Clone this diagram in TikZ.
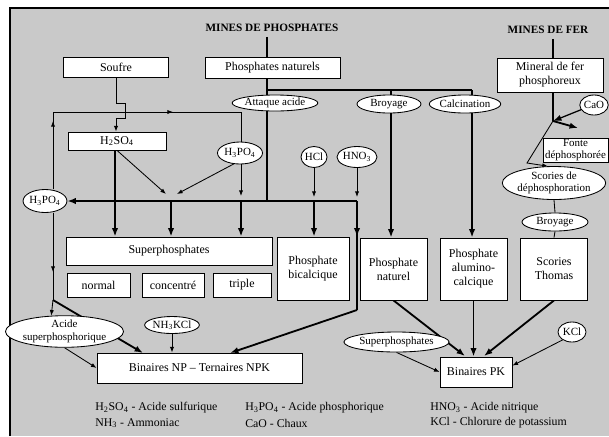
\documentclass[tikz,border=0pt]{standalone}
\usepackage{fontspec}
\setmainfont{Liberation Serif}
\usetikzlibrary{shapes.geometric,arrows.meta}
\pgfdeclarelayer{back}
\pgfdeclarelayer{lines}
\pgfsetlayers{back,lines,main}
\tikzset{
  pbox/.style 2 args={draw, line width=0.6pt, fill=white, align=center, inner sep=1pt,
    font=\fontsize{8.5}{10}\selectfont, minimum width=#1*0.025cm, minimum height=#2*0.025cm},
  pell/.style 2 args={ellipse, draw, line width=0.6pt, fill=white, align=center, inner sep=0pt,
    font=\fontsize{7.8}{8.8}\selectfont, minimum width=#1*0.025cm, minimum height=#2*0.025cm},
  mines/.style={font=\fontsize{8}{9}\selectfont\bfseries},
  legend/.style={anchor=west, inner sep=0pt, font=\fontsize{8.4}{10}\selectfont},
  fat/.style={line width=1.3pt, -{Latex[length=6pt,width=4.5pt]}},
  lean/.style={line width=0.6pt, -{Latex[length=4pt,width=3pt]}},
  plain/.style={line width=0.6pt},
}

\begin{document}
\begin{tikzpicture}[x=0.025cm, y=-0.025cm]
  \useasboundingbox (0,0) rectangle (609,436);
  \begin{pgfonlayer}{back}
    \fill[white] (0,0) rectangle (609,436);
    \fill[black!21] (10,8) rectangle (609,436);
    \draw[line width=1.5pt] (10,436) -- (10,8) -- (609,8);
  \end{pgfonlayer}

  % titres
  \node[mines] (minesP) at (272,28) {MINES DE PHOSPHATES};
  \node[mines] (minesF) at (548,30) {MINES DE FER};

  % boites du haut
  \node[pbox={105}{20}] (soufre) at (116,67) {Soufre};
  \node[pbox={135}{21}] (phnat) at (272.5,67.5) {Phosphates naturels};
  \node[pbox={106}{34}] (mineral) at (550,75) {Mineral de fer\\phosphoreux};
  \node[pbox={98}{18}] (h2so4) at (117,141) {H\textsubscript{2}SO\textsubscript{4}};

  % ellipses du haut
  \node[pell={65}{16}] (attaque) at (275,103) {Attaque acide};
  \node[pell={64}{18}] (broyageA) at (389,104) {Broyage};
  \node[pell={57}{18}] (calcin) at (465,104) {Calcination};
  \node[pell={45}{22}] (h3po4m) at (240,153) {H\textsubscript{3}PO\textsubscript{4}};
  \node[pell={26}{21}] (hcl) at (314,157) {HCl};
  \node[pell={35}{21}] (hno3) at (357,157) {HNO\textsubscript{3}};
  \node[pell={42}{23}] (h3po4l) at (45,201) {H\textsubscript{3}PO\textsubscript{4}};
  \node[pell={28}{20}] (cao) at (594,105) {CaO};
  \node[pbox={65}{24}, font=\fontsize{7.8}{8.8}\selectfont, inner sep=0pt] (fonte) at (575.5,150) {Fonte\\déphosphorée};
  \node[pell={85}{33}] (scories) at (554,183) {Scories de\\déphosphoration};
  \node[pell={66}{18}] (broyageB) at (555,222) {Broyage};

  % produits
  \node[pbox={206}{28}] (superph) at (169,251) {Superphosphates};
  \node[pbox={63}{24}] (normal) at (98.5,285) {normal};
  \node[pbox={62}{24}] (concentre) at (173,285) {concentré};
  \node[pbox={58}{24}] (triple) at (242,285) {triple};
  \node[pbox={72}{63}] (bical) at (313,268.5) {Phosphate\\bicalcique};
  \node[pbox={67}{62}] (phnaturel) at (393.5,269) {Phosphate\\naturel};
  \node[pbox={67}{62}] (alumino) at (473.5,269) {Phosphate\\alumino-\\calcique};
  \node[pbox={67}{62}] (thomas) at (554,269) {Scories\\Thomas};

  % engrais composes
  \node[pell={95}{27}] (acsup) at (64.5,331.5) {Acide\\superphosphorique};
  \node[pell={50}{17}] (nh3kcl) at (172,325) {NH\textsubscript{3}KCl};
  \node[pbox={205}{30}] (npk) at (199.5,368) {Binaires NP -- Ternaires NPK};
  \node[pell={87}{20}] (superell) at (396.5,342) {Superphosphates};
  \node[pell={28}{20}] (kcl) at (572,332) {KCl};
  \node[pbox={72}{30}] (pk) at (476,372) {Binaires PK};

  % legende
  \node[legend] (lg1) at (95,408) {H\textsubscript{2}SO\textsubscript{4} - Acide sulfurique};
  \node[legend] (lg2) at (95,423) {NH\textsubscript{3} - Ammoniac};
  \node[legend] (lg3) at (245,408) {H\textsubscript{3}PO\textsubscript{4} - Acide phosphorique};
  \node[legend] (lg4) at (245,423) {CaO - Chaux};
  \node[legend] (lg5) at (430,408) {HNO\textsubscript{3} - Acide nitrique};
  \node[legend] (lg6) at (430,423) {KCl - Chlorure de potassium};

  \coordinate (jP) at (267,90);
  \coordinate (jB) at (391,90);
  \coordinate (jC) at (472,90);
  \coordinate (hA) at (267,201);
  \coordinate (hE) at (357,201);
  \coordinate (kE) at (357,310);
  \coordinate (tl) at (53,112);
  \coordinate (tr) at (241,112);
  \coordinate (cvL) at (166,194);
  \coordinate (cvR) at (177,194);
  \coordinate (jL) at (53,300);
  \coordinate (nW) at (143,353);
  \coordinate (nE) at (230,353);
  \coordinate (pA) at (465,356);
  \coordinate (pC) at (484,356);
  \coordinate (jF) at (553,121);
  \coordinate (kF) at (527,163);
  \coordinate (fT) at (578,128);

  \begin{pgfonlayer}{lines}
    % phosphates
    \draw[line width=0.9pt] (minesP.south -| jP) -- (phnat.north -| jP);
    \draw[line width=1.1pt] (phnat.south -| jP) -- (hA);
    \draw[line width=1.1pt] (jP) -- (jC);
    \draw[fat] (jB) -- (jB |- phnaturel.north);
    \draw[fat] (jC) -- (jC |- alumino.north);
    \draw[fat] (hE) -- (h3po4l.east);
    \draw[line width=1.3pt] (hE) -- (kE);
    \draw[fat] (hE) -- (hE |- bical.north);
    \draw[fat] (kE) -- (nE);
    \foreach \x in {171,241}
      \draw[fat] (\x,201) -- (\x,0 |- superph.north);
    \draw[fat] (115,0 |- h2so4.south) -- (115,0 |- superph.north);
    \draw[lean] (hcl.south) -- (314,197);
    \draw[fat] (314,201) -- (314,0 |- bical.north);
    \draw[lean] (hno3.south) -- (357,197);
    % soufre et acides
    \draw[lean] (soufre.south) -- ++(0,26) -- ++(9,0) -- ++(0,15) -- ++(-9,0) -- (soufre.south |- h2so4.north);
    \draw[lean] (h2so4.south) -- (cvL);
    \draw[lean] (h3po4m.240) -- (cvR);
    \draw[plain] (h3po4l.north -| tl) -- (tl) -- (tr);
    \draw[lean] (h3po4l.north -| tl) -- (53,121);
    \draw[lean] (tl) -- (173,112);
    \draw[lean] (tr) -- (241,196);
    \draw[plain] (h3po4l.south -| tl) -- (jL);
    \draw[lean] (h3po4l.south -| tl) -- (53,272);
    \draw[lean] (jL) -- (acsup.130);
    \draw[fat] (jL) -- (nW);
    \draw[lean] (acsup.south) -- (npk.west);
    \draw[lean] (nh3kcl.south) -- (nh3kcl.south |- npk.north);
    % binaires PK
    \draw[fat] (phnaturel.south) -- (pA);
    \draw[fat] (alumino.south) -- (alumino.south |- pk.north);
    \draw[fat] (thomas.south) -- (pC);
    \draw[lean] (superell.south) -- (pk.west);
    \draw[lean] (kcl.220) -- (pk.10);
    % fer
    \draw[line width=0.9pt] (minesF.south -| jF) -- (mineral.north -| jF);
    \draw[line width=0.9pt] (mineral.south -| jF) -- (jF);
    \draw[line width=0.9pt, -{Latex[length=6pt,width=4.5pt]}] (cao.200) -- (jF);
    \draw[fat] (jF) -- (fT);
    \draw[lean] (jF) -- (kF) -- (scories.110);
    \draw[plain] (scories.south) -- (broyageB.north);
    \draw[plain] (broyageB.south) -- (thomas.north);
  \end{pgfonlayer}
\end{tikzpicture}
\end{document}
